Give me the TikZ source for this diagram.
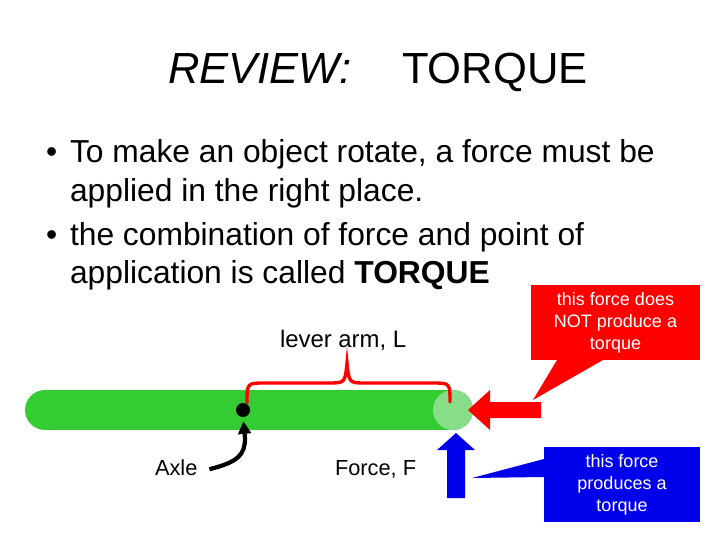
\documentclass[tikz,border=0pt]{standalone}
\usepackage{fontspec}
\setmainfont{Liberation Sans}
\usepackage{tikz}
\usetikzlibrary{arrows.meta}

\definecolor{bargreen}{RGB}{51,204,51}
\definecolor{tipgreen}{RGB}{136,221,136}
\definecolor{pushblue}{RGB}{0,0,235}

\begin{document}
\begin{tikzpicture}[
    x=0.025cm, y=-0.025cm,
    every node/.style={inner sep=0pt, outer sep=0pt},
    heading/.style={font=\fontsize{31}{37}\selectfont, anchor=base west},
    point/.style={font=\fontsize{22.6}{27}\selectfont, anchor=base west},
    partname/.style={font=\fontsize{15.5}{19}\selectfont, anchor=base west},
    note/.style={font=\fontsize{12.8}{15.6}\selectfont, text=white, align=center,
        minimum height=1.875cm}
]
\useasboundingbox (0,0) rectangle (720,540);

\node[heading] (review) at (168,83) {\itshape REVIEW:};
\node[heading] (title) at (402,83) {TORQUE};

\node[point] (dot1) at (46,162) {\textbullet};
\node[point] (line1) at (70,162) {To make an object rotate, a force must be};
\node[point] (line2) at (70,201) {applied in the right place.};
\node[point] (dot2) at (46,245) {\textbullet};
\node[point] (line3) at (70,245) {the combination of force and point of};
\node[point] (line4) at (70,283) {application is called \textbf{TORQUE}};

\draw[bargreen, line width=1cm, line cap=round] (45,410) -- (453,410);
\fill[tipgreen] (453,410) circle[radius=0.5cm];
\node[circle, fill=black, minimum size=0.35cm] (pivot) at (243,410) {};

\draw[red, line width=2.4pt, line cap=round]
    (247,403) .. controls (247,383) .. (265,383) -- (328,383)
    .. controls (345,383) .. (347,363) .. controls (349,383) .. (366,383)
    -- (432,383) .. controls (450,383) .. (450,402);
\node[partname, font=\fontsize{17}{20}\selectfont] (arm) at (280,347) {lever arm, L};

\node[partname] (axle) at (155,475) {Axle};
\draw[line width=3pt, -{Triangle[length=9pt, width=9pt]}, shorten >=3pt]
    ([xshift=0.3cm, yshift=-0.05cm]axle.east) .. controls (238,462) and (245,455) .. (245,438)
    -- (pivot.south);
\node[partname] (force) at (335,475) {Force, F};

\fill[red] (468,410) -- (490,390) -- (490,402) -- (541,402) -- (541,418)
    -- (490,418) -- (490,430) -- cycle;
\fill[pushblue] (456,433) -- (475,450) -- (465,450) -- (465,498) -- (447,498)
    -- (447,450) -- (437,450) -- cycle;

\node[note, fill=red, minimum width=4.225cm] (nobox) at (615.5,322.5)
    {this force does\\NOT produce a\\torque};
\coordinate (notip) at (533,400);
\fill[red] ([xshift=0.65cm]nobox.south west) -- (notip)
    -- ([xshift=1.8cm]nobox.south west) -- cycle;

\node[note, fill=pushblue, minimum width=3.9cm] (yesbox) at (622,484.5)
    {this force\\produces a\\torque};
\coordinate (yestip) at (472,478);
\fill[pushblue] ([yshift=-0.3cm]yesbox.north west) -- (yestip)
    -- ([yshift=-0.75cm]yesbox.north west) -- cycle;
\end{tikzpicture}
\end{document}
